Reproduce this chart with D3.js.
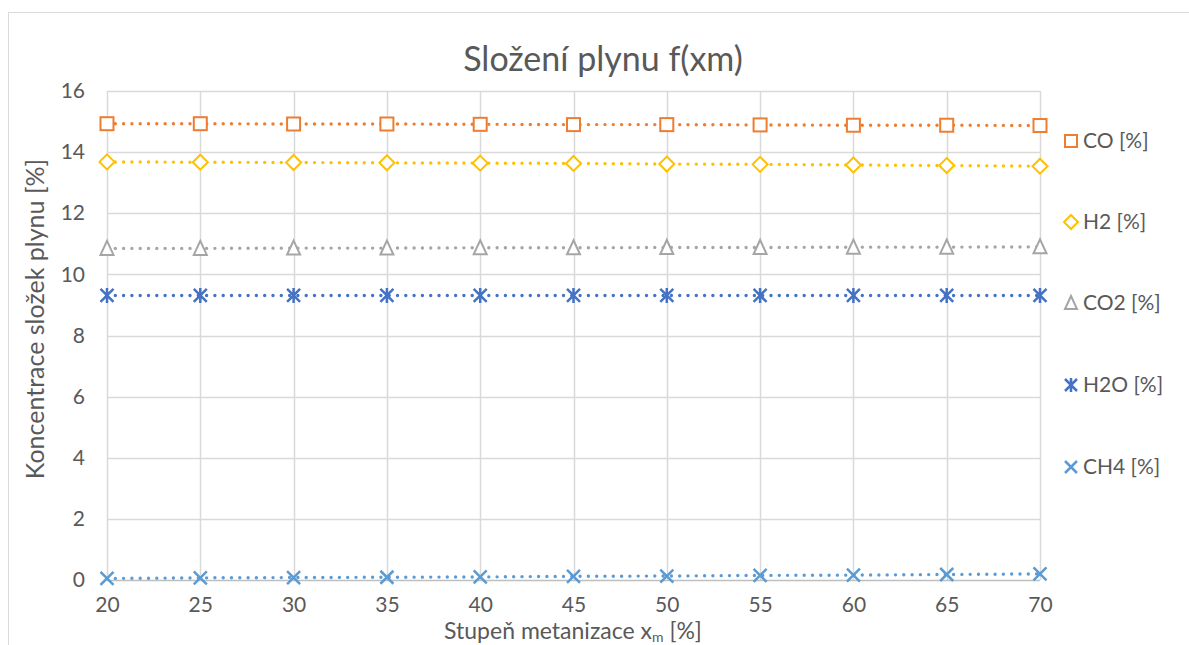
<!DOCTYPE html>
<html><head><meta charset="utf-8">
<script src="https://cdn.jsdelivr.net/npm/d3@7/dist/d3.min.js"></script>
<style>body{margin:0;background:#fff;}svg{display:block;font-family:Lato,"Open Sans",sans-serif;}</style>
</head><body>
<svg id="c" width="1189" height="645"></svg>
<script>
const xValues = [20,25,30,35,40,45,50,55,60,65,70];
const seriesNames = ["CO [%]","H2 [%]","CO2 [%]","H2O [%]","CH4 [%]"];
const coValues  = [14.93,14.93,14.92,14.92,14.91,14.90,14.90,14.89,14.88,14.88,14.87];
const h2Values  = [13.68,13.67,13.66,13.65,13.64,13.63,13.61,13.60,13.58,13.56,13.54];
const co2Values = [10.85,10.85,10.86,10.86,10.87,10.87,10.88,10.88,10.89,10.89,10.90];
const h2oValues = [9.31,9.31,9.31,9.31,9.31,9.31,9.31,9.31,9.31,9.31,9.31];
const ch4Values = [0.05,0.07,0.08,0.09,0.10,0.12,0.13,0.15,0.16,0.18,0.20];
const yTicks = [0,2,4,6,8,10,12,14,16];
const xTicks = [20,25,30,35,40,45,50,55,60,65,70];
const colors = ["#ED7D31","#FFC000","#A5A5A5","#4472C4","#5B9BD5"];
const markerTypes = ["square","diamond","triangle","asterisk","cross"];

const svg = d3.select("#c");
const L=107,R=1040,T=91,B=580;
const x = d3.scaleLinear().domain([20,70]).range([L,R]);
const y = d3.scaleLinear().domain([0,16]).range([B,T]);

svg.append("rect").attr("x",8.5).attr("y",12.5).attr("width",1200).attr("height",700)
  .attr("fill","#fff").attr("stroke","#D9D9D9").attr("stroke-width",1);

// gridlines
const g = svg.append("g");
g.selectAll("line.h").data(yTicks.filter(d=>d>0)).join("line")
  .attr("x1",L).attr("x2",R).attr("y1",d=>Math.round(y(d))+0.5).attr("y2",d=>Math.round(y(d))+0.5)
  .attr("stroke","#D9D9D9").attr("stroke-width",1.5);
g.selectAll("line.v").data(xTicks).join("line")
  .attr("y1",T).attr("y2",B).attr("x1",d=>Math.round(x(d))+0.5).attr("x2",d=>Math.round(x(d))+0.5)
  .attr("stroke","#D9D9D9").attr("stroke-width",1.5);
g.append("line").attr("x1",L).attr("x2",R).attr("y1",B+0.5).attr("y2",B+0.5)
  .attr("stroke","#BFBFBF").attr("stroke-width",1.5);

// axes labels via d3 axes
const yAxis = svg.append("g").attr("transform",`translate(${L},0)`)
  .call(d3.axisLeft(y).tickValues(yTicks).tickSize(0).tickPadding(22));
yAxis.select(".domain").remove();
yAxis.selectAll("text").attr("font-size",21).attr("fill","#595959").attr("font-family","Lato,sans-serif");
const xAxis = svg.append("g").attr("transform",`translate(0,${B})`)
  .call(d3.axisBottom(x).tickValues(xTicks).tickSize(0).tickPadding(17));
xAxis.select(".domain").remove();
xAxis.selectAll("text").attr("font-size",21).attr("fill","#595959").attr("font-family","Lato,sans-serif");

// title
svg.append("text").attr("x",603).attr("y",71).attr("text-anchor","middle")
  .attr("font-size",34).attr("fill","#595959").text("Složení plynu f(xm)");

// axis titles
const xt = svg.append("text").attr("x",573).attr("y",639).attr("text-anchor","middle")
  .attr("font-size",23).attr("fill","#595959");
xt.append("tspan").text("Stupeň metanizace x");
xt.append("tspan").attr("font-size",14).attr("dy",3).text("m");
xt.append("tspan").attr("dy",-3).text(" [%]");
svg.append("text").attr("transform","translate(44,319) rotate(-90)").attr("text-anchor","middle")
  .attr("font-size",25).attr("fill","#595959").text("Koncentrace složek plynu [%]");

const allSeries = [coValues,h2Values,co2Values,h2oValues,ch4Values];

function drawMarker(sel, type, color, cx, cy, s){
  const gg = sel.append("g").attr("transform",`translate(${cx},${cy})`)
    .attr("fill","none").attr("stroke",color).attr("stroke-width",2);
  if(type==="square") gg.append("rect").attr("x",-s).attr("y",-s).attr("width",2*s).attr("height",2*s).attr("fill","#fff");
  else if(type==="diamond") gg.append("path").attr("d",`M0,${-s-1}L${s+1},0L0,${s+1}L${-s-1},0Z`).attr("fill","#fff");
  else if(type==="triangle") gg.append("path").attr("d",`M0,${-s-1}L${s},${s}L${-s},${s}Z`).attr("fill","#fff");
  else if(type==="asterisk"){ gg.append("path").attr("d",`M${-s},${-s}L${s},${s}M${-s},${s}L${s},${-s}M0,${-s-1}L0,${s+1}`).attr("stroke-width",2.5); }
  else if(type==="cross"){ gg.append("path").attr("d",`M${-s},${-s}L${s},${s}M${-s},${s}L${s},${-s}`).attr("stroke-width",2.5); }
}

const line = d3.line().x((d,i)=>x(xValues[i])).y(d=>y(d));
allSeries.forEach((vals,k)=>{
  svg.append("path").datum(vals).attr("d",line).attr("fill","none")
    .attr("stroke",colors[k]).attr("stroke-width",3.4).attr("stroke-linecap","round")
    .attr("stroke-dasharray","0,8.3");
  const mg = svg.append("g");
  vals.forEach((v,i)=>drawMarker(mg, markerTypes[k], colors[k], x(xValues[i]), y(v), 6.5));
});

// legend
const legY = [141,222,303,385,467];
seriesNames.forEach((n,k)=>{
  drawMarker(svg, markerTypes[k], colors[k], 1071, legY[k], 6);
  svg.append("text").attr("x",1083).attr("y",legY[k]+7).attr("font-size",21)
    .attr("fill","#595959").text(n);
});
</script>
</body></html>
